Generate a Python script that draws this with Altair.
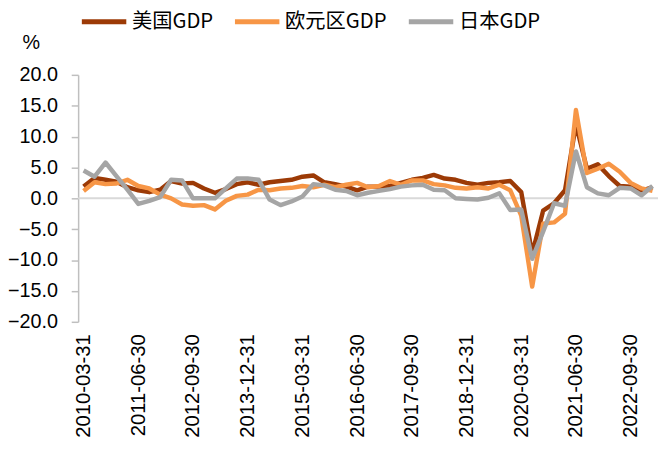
import altair as alt
import pandas as pd

# Quarter-end categories 2010Q1 .. 2023Q1
quarters = [f"{y}-{md}" for y in range(2010, 2024)
            for md in ["03-31", "06-30", "09-30", "12-31"]][:53]

tick_labels = ["2010-03-31", "2011-06-30", "2012-09-30", "2013-12-31",
               "2015-03-31", "2016-06-30", "2017-09-30", "2018-12-31",
               "2020-03-31", "2021-06-30", "2022-09-30"]

series_names = ["美国GDP", "欧元区GDP", "日本GDP"]
series_colors = ["#9C3A06", "#F79646", "#A5A5A5"]

us = [1.9, 3.3, 3.0, 2.7, 1.8, 1.3, 1.0, 1.4, 2.8, 2.4,
      2.5, 1.6, 0.9, 1.5, 2.3, 2.6, 2.2, 2.6, 2.8, 3.0,
      3.5, 3.7, 2.6, 2.3, 1.9, 1.3, 1.9, 1.9, 2.0, 2.5,
      3.0, 3.3, 3.8, 3.2, 3.0, 2.5, 2.2, 2.5, 2.6, 2.8,
      1.0, -9.0, -2.0, -0.8, 1.3, 12.0, 4.8, 5.5, 3.6, 2.0,
      1.9, 1.2, 1.8]

euro = [1.2, 2.6, 2.3, 2.4, 3.0, 2.0, 1.6, 0.6, 0.0, -1.0,
        -1.2, -1.1, -1.8, -0.4, 0.4, 0.6, 1.4, 1.3, 1.6, 1.7,
        2.0, 1.8, 2.2, 1.8, 2.2, 2.5, 1.8, 2.0, 2.8, 2.2,
        2.9, 2.9, 2.3, 2.1, 1.7, 1.6, 1.8, 1.6, 2.2, 1.3,
        -2.8, -14.3, -4.1, -3.9, -2.5, 14.3, 4.1, 4.8, 5.6, 4.3,
        2.5, 1.6, 1.2]

japan = [4.5, 3.5, 5.8, 3.6, 1.4, -0.9, -0.4, 0.2, 3.0, 2.9,
         0.0, 0.0, 0.0, 1.6, 3.2, 3.2, 3.0, -0.2, -1.1, -0.5,
         0.3, 2.3, 2.1, 1.4, 1.2, 0.5, 0.9, 1.2, 1.5, 1.9,
         2.1, 2.2, 1.4, 1.3, 0.0, -0.1, -0.2, 0.1, 0.8, -1.9,
         -1.8, -9.8, -5.4, -0.8, -1.2, 7.6, 1.8, 0.8, 0.5, 1.7,
         1.6, 0.5, 2.0]

y_ticks = [-20, -15, -10, -5, 0, 5, 10, 15, 20]

rows = []
for k, (name, vals) in enumerate(zip(series_names, [us, euro, japan])):
    for q, v in zip(quarters, vals):
        rows.append({"date": q, "series": name, "value": v, "k": k})
df = pd.DataFrame(rows)

FONT = "Liberation Sans"
CJK = "Noto Sans CJK SC"

x_axis = alt.Axis(values=tick_labels, labelAngle=-90, labelAlign="right",
                  labelBaseline="middle", domain=False, ticks=False,
                  labelPadding=12, labelFontSize=20.5, labelFont=FONT,
                  labelColor="#000000", title=None, grid=False,
                  labelOverlap=False)

y_axis = alt.Axis(values=y_ticks, format=".1f", grid=False,
                  domainColor="#BFBFBF", domainWidth=1.5,
                  tickColor="#BFBFBF", tickSize=7, tickWidth=1.5,
                  labelPadding=14, labelFontSize=20, labelFont=FONT,
                  labelColor="#000000", labelOverlap=False,
                  title="%", titleAngle=0, titleX=-48, titleY=-33,
                  titleAlign="center", titleBaseline="middle",
                  titleFontSize=20, titleFontWeight="normal", titleFont=FONT,
                  titleColor="#000000")

y_scale = alt.Scale(domain=[-20, 20], nice=False, zero=False)

zero = alt.Chart(pd.DataFrame({"value": [0]})).mark_rule(
    color="#D9D9D9", strokeWidth=2
).encode(y=alt.Y("value:Q", scale=y_scale, axis=y_axis))

lines = alt.Chart(df).mark_line(strokeWidth=4.5, strokeJoin="round").encode(
    x=alt.X("date:O",
            scale=alt.Scale(type="point", padding=0.5, domain=quarters),
            axis=x_axis),
    y=alt.Y("value:Q", scale=y_scale, axis=y_axis),
    color=alt.Color(
        "series:N",
        scale=alt.Scale(domain=series_names, range=series_colors),
        legend=alt.Legend(orient="none", legendX=16, legendY=-64,
                          direction="horizontal", title=None,
                          symbolType="M-3,0H3", symbolStrokeWidth=5,
                          symbolSize=225, labelFontSize=20.5, labelFont=CJK,
                          labelColor="#000000", columnPadding=11,
                          gridAlign="none",
                          labelOffset=18, padding=0),
    ),
    detail="series:N",
    order="k:Q",
)

chart = alt.layer(zero, lines).properties(
    width=587, height=250,
    autosize=alt.AutoSizeParams(type="none"),
    padding={"left": 71, "top": 65, "right": 0, "bottom": 119},
).configure_view(stroke=None)

chart.save("out.html", embed_options={"renderer": "svg", "actions": False})
